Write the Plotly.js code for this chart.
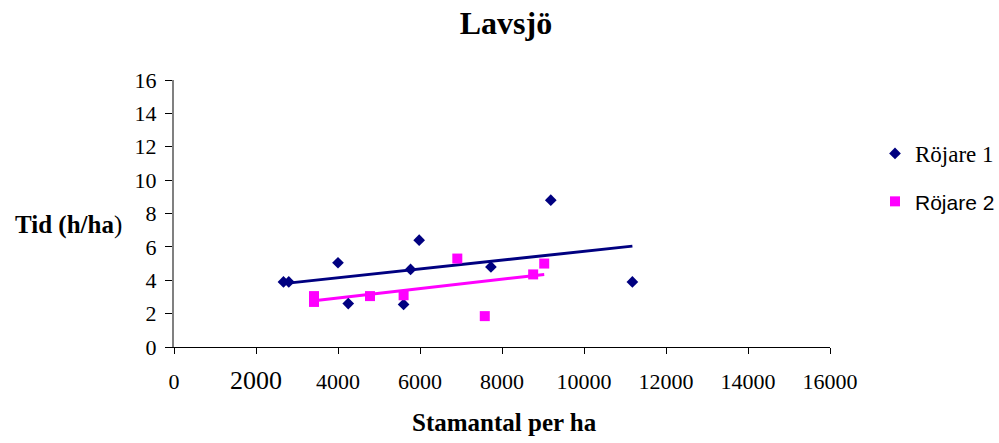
<!DOCTYPE html>
<html>
<head>
<meta charset="utf-8">
<script src="https://cdn.plot.ly/plotly-3.0.1.min.js"></script>
<style>
  html, body { margin: 0; padding: 0; background: #fff; }
  #chart { width: 999px; height: 443px; }
</style>
</head>
<body>
<div id="chart"></div>
<script>
// ---- Data ----
const chartTitle = "Lavsjö";
const xAxisTitle = "Stamantal per ha";
const yAxisTitle = "Tid (h/ha)";
const seriesNames = ["Röjare 1", "Röjare 2"];

const rojare1X = [2670, 2800, 4000, 4250, 5600, 5770, 5980, 7730, 9190, 11180];
const rojare1Y = [3.9, 3.9, 5.05, 2.6, 2.55, 4.65, 6.4, 4.8, 8.8, 3.9];

const rojare2X = [3415, 3415, 4780, 5600, 6910, 7580, 8760, 9030];
const rojare2Y = [3.05, 2.7, 3.05, 3.1, 5.3, 1.85, 4.35, 5.0];

const xTickVals = [0, 2000, 4000, 6000, 8000, 10000, 12000, 14000, 16000];
const xTickText = ["0", "2000", "4000", "6000", "8000", "10000", "12000", "14000", "16000"];
const yTickVals = [0, 2, 4, 6, 8, 10, 12, 14, 16];

// ---- Linear trend (least squares) ----
function linFit(xs, ys) {
  const n = xs.length;
  const mx = xs.reduce((a, b) => a + b, 0) / n;
  const my = ys.reduce((a, b) => a + b, 0) / n;
  let sxy = 0, sxx = 0;
  for (let i = 0; i < n; i++) { sxy += (xs[i] - mx) * (ys[i] - my); sxx += (xs[i] - mx) ** 2; }
  const b = sxy / sxx, a = my - b * mx;
  const x0 = Math.min(...xs), x1 = Math.max(...xs);
  return { x: [x0, x1], y: [a + b * x0, a + b * x1] };
}
const fit1 = linFit(rojare1X, rojare1Y);
const fit2 = linFit(rojare2X, rojare2Y);

const navy = "#000080";
const magenta = "#FF00FF";
const serif = "Liberation Serif, Times New Roman, serif";
const sans = "Liberation Sans, Arial, sans-serif";

const traces = [
  { x: fit1.x, y: fit1.y, mode: "lines", line: { color: navy, width: 3 }, showlegend: false, hoverinfo: "skip" },
  { x: fit2.x, y: fit2.y, mode: "lines", line: { color: magenta, width: 3 }, showlegend: false, hoverinfo: "skip" },
  { x: rojare1X, y: rojare1Y, mode: "markers", name: seriesNames[0], legendgroup: "a",
    marker: { symbol: "diamond", size: 9, color: navy } },
  { x: rojare2X, y: rojare2Y, mode: "markers",
    name: '<span style="font-family:' + sans + ';font-size:21px">' + seriesNames[1] + '</span>', legendgroup: "b",
    marker: { symbol: "square", size: 10, color: magenta } }
];

const ticktext = xTickText.map(t => t === "2000" ? '<span style="font-size:26px">' + t + '</span>' : t);

const layout = {
  width: 999, height: 443,
  paper_bgcolor: "#fff", plot_bgcolor: "#fff",
  margin: { l: 174, r: 169, t: 80, b: 96, autoexpand: false },
  font: { family: serif, color: "#000", size: 22 },
  title: { text: "<b>" + chartTitle + "</b>", font: { family: serif, size: 32, color: "#000" },
           x: 506 / 999, xanchor: "center", xref: "container", y: 1 - 23 / 443, yanchor: "middle", yref: "container" },
  xaxis: {
    range: [0, 16000], tickvals: xTickVals, ticktext: ticktext,
    showgrid: false, zeroline: false, showline: true, linecolor: "#000", linewidth: 1,
    ticks: "outside", ticklen: 6, tickcolor: "#000", tickwidth: 1,
    tickfont: { family: serif, size: 22, color: "#000" }, ticklabelstandoff: 9,
    fixedrange: true
  },
  yaxis: {
    range: [0, 16], tickvals: yTickVals,
    showgrid: false, zeroline: false, showline: true, linecolor: "#808080", linewidth: 2,
    ticks: "outside", ticklen: 7, tickcolor: "#000", tickwidth: 1,
    tickfont: { family: serif, size: 22, color: "#000" }, ticklabelstandoff: 4,
    fixedrange: true
  },
  showlegend: true,
  legend: {
    x: (875 - 174) / 656, xanchor: "left", y: (347 - 132) / 267, yanchor: "top",
    font: { family: serif, size: 23, color: "#000" },
    tracegroupgap: 15, bgcolor: "rgba(0,0,0,0)", borderwidth: 0
  },
  annotations: [
    { text: "<b>" + xAxisTitle + "</b>", xref: "paper", yref: "paper", x: (505 - 174) / 656, y: -(422 - 347) / 267,
      xanchor: "center", yanchor: "middle", showarrow: false, font: { family: serif, size: 25, color: "#000" } },
    { text: "<b>Tid (h/ha</b>)", xref: "paper", yref: "paper", x: (68 - 174) / 656, y: (347 - 225) / 267,
      xanchor: "center", yanchor: "middle", showarrow: false, font: { family: serif, size: 25, color: "#000" } }
  ]
};

Plotly.newPlot("chart", traces, layout, { displayModeBar: false, staticPlot: true });
</script>
</body>
</html>
